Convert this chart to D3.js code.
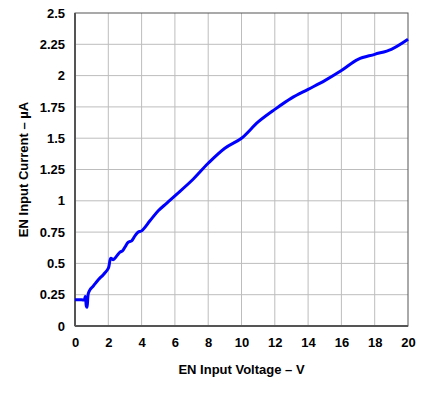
<!DOCTYPE html>
<html>
<head>
<meta charset="utf-8">
<script src="https://cdn.jsdelivr.net/npm/d3@7"></script>
<style>
  body { margin: 0; background: #fff; }
  text { font-family: "Liberation Sans", Arial, sans-serif; font-weight: bold; }
</style>
</head>
<body>
<script>
// values
const volts = [0, 0.3, 0.55, 0.62, 0.68, 0.72, 0.8, 0.9, 1.1, 1.4, 1.7, 2.0, 2.15, 2.3, 2.45, 2.7, 2.85, 3.0, 3.2, 3.4, 3.6, 3.8, 4.0, 4.5, 5, 5.5, 6, 7, 8, 9, 10, 11, 12, 13, 14, 15, 16, 17, 18, 19, 20];
const current = [0.21, 0.21, 0.21, 0.235, 0.16, 0.15, 0.26, 0.29, 0.32, 0.37, 0.41, 0.46, 0.54, 0.53, 0.55, 0.59, 0.6, 0.63, 0.67, 0.68, 0.72, 0.75, 0.76, 0.84, 0.92, 0.98, 1.04, 1.16, 1.3, 1.42, 1.5, 1.63, 1.73, 1.82, 1.89, 1.96, 2.04, 2.13, 2.17, 2.21, 2.29];
const xTicks = [0, 2, 4, 6, 8, 10, 12, 14, 16, 18, 20];
const yTicks = [0, 0.25, 0.5, 0.75, 1, 1.25, 1.5, 1.75, 2, 2.25, 2.5];
const yLabels = ["0", "0.25", "0.5", "0.75", "1", "1.25", "1.5", "1.75", "2", "2.25", "2.5"];

const W = 427, H = 398;
const m = { left: 75, right: 19, top: 13, bottom: 72 };

const svg = d3.select("body").append("svg")
    .attr("width", W)
    .attr("height", H);

const x = d3.scaleLinear().domain([0, 20]).range([m.left, W - m.right]);
const y = d3.scaleLinear().domain([0, 2.5]).range([H - m.bottom, m.top]);

// grid
svg.append("g").selectAll("line").data(xTicks.slice(1, -1)).join("line")
    .attr("x1", d => x(d)).attr("x2", d => x(d))
    .attr("y1", y(0)).attr("y2", y(2.5))
    .attr("stroke", "#bdbdbd").attr("stroke-width", 1);
svg.append("g").selectAll("line").data(yTicks.slice(1, -1)).join("line")
    .attr("y1", d => y(d)).attr("y2", d => y(d))
    .attr("x1", x(0)).attr("x2", x(20))
    .attr("stroke", "#bdbdbd").attr("stroke-width", 1);

// frame
svg.append("rect")
    .attr("x", x(0)).attr("y", y(2.5))
    .attr("width", x(20) - x(0)).attr("height", y(0) - y(2.5))
    .attr("fill", "none").attr("stroke", "#555").attr("stroke-width", 1);
svg.append("line")
    .attr("x1", x(0)).attr("x2", x(0)).attr("y1", y(2.5)).attr("y2", y(0))
    .attr("stroke", "#555").attr("stroke-width", 2);
svg.append("line")
    .attr("x1", x(0)).attr("x2", x(20)).attr("y1", y(0)).attr("y2", y(0))
    .attr("stroke", "#555").attr("stroke-width", 2);

// axes (labels only)
const xAxis = d3.axisBottom(x).tickValues(xTicks).tickSize(0).tickPadding(12);
const xg = svg.append("g").attr("transform", `translate(0,${y(0)})`).call(xAxis);
xg.select(".domain").remove();
xg.selectAll("text").attr("font-size", 13).attr("fill", "#000")
    .style("font-family", '"Liberation Sans", Arial, sans-serif').style("font-weight", "bold");

const yAxis = d3.axisLeft(y).tickValues(yTicks).tickFormat((d, i) => yLabels[i]).tickSize(0).tickPadding(10);
const yg = svg.append("g").attr("transform", `translate(${x(0)},0)`).call(yAxis);
yg.select(".domain").remove();
yg.selectAll("text").attr("font-size", 13).attr("fill", "#000")
    .style("font-family", '"Liberation Sans", Arial, sans-serif').style("font-weight", "bold");

// curve
const line = d3.line()
    .x((d, i) => x(volts[i]))
    .y(d => y(d))
    .curve(d3.curveCatmullRom);

svg.append("path")
    .attr("d", line(current))
    .attr("fill", "none")
    .attr("stroke", "#0000ff")
    .attr("stroke-width", 3)
    .attr("stroke-linejoin", "round");

// titles
svg.append("text")
    .attr("x", (x(0) + x(20)) / 2).attr("y", 374)
    .attr("text-anchor", "middle").attr("font-size", 13)
    .text("EN Input Voltage – V");

svg.append("text")
    .attr("transform", `translate(28,${(y(0) + y(2.5)) / 2}) rotate(-90)`)
    .attr("text-anchor", "middle").attr("font-size", 13)
    .text("EN Input Current – µA");
</script>
</body>
</html>
